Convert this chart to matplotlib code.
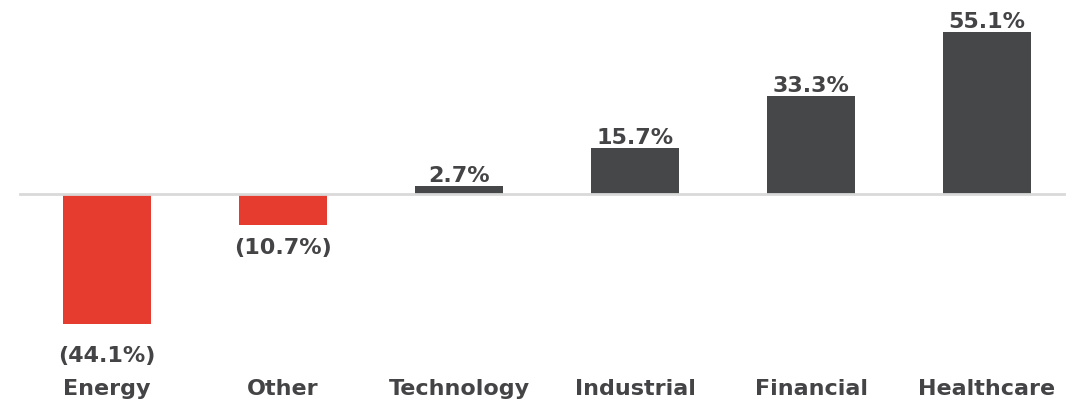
import matplotlib.pyplot as plt
import numpy as np

plt.rcParams['font.family'] = ['DejaVu Sans']

# Data
sectors = ['Energy', 'Other', 'Technology', 'Industrial', 'Financial', 'Healthcare']
returns = [-44.1, -10.7, 2.7, 15.7, 33.3, 55.1]

color_pos = '#464749'
color_neg = '#e53c2f'
text_color = '#444446'

fig = plt.figure(figsize=(10.84, 4.05), dpi=100)
ax = fig.add_axes([0, 0, 1, 1])

x = np.arange(len(sectors))
colors = [color_neg if v < 0 else color_pos for v in returns]
ax.bar(x, returns, width=0.5, color=colors, zorder=2)

# zero line
ax.axhline(0, xmin=20 / 1084, xmax=1064 / 1084, color='#d9d9d9', linewidth=2, zorder=3)

# value labels
for xi, v in zip(x, returns):
    if v >= 0:
        label = f'{v:.1f}%'
        ax.annotate(label, xy=(xi, v), xytext=(0, 3), textcoords='offset points',
                    ha='center', va='baseline', fontsize=16, fontweight='bold',
                    color=text_color)
    else:
        label = f'({abs(v):.1f}%)'
        off = -16 if v < -30 else -9
        ax.annotate(label, xy=(xi, v), xytext=(0, off), textcoords='offset points',
                    ha='center', va='top', fontsize=16, fontweight='bold',
                    color=text_color)

# category labels
trans = ax.get_xaxis_transform()
for xi, name in zip(x, sectors):
    ax.text(xi, 16 / 405, name, transform=trans, ha='center', va='center',
            fontsize=16, fontweight='bold', color=text_color)

ax.set_xlim(-107 / 176, (1084 - 107) / 176)
ax.set_ylim(-211 / 2.94, 194 / 2.94)
ax.axis('off')

fig.savefig('out.png', dpi=100)
